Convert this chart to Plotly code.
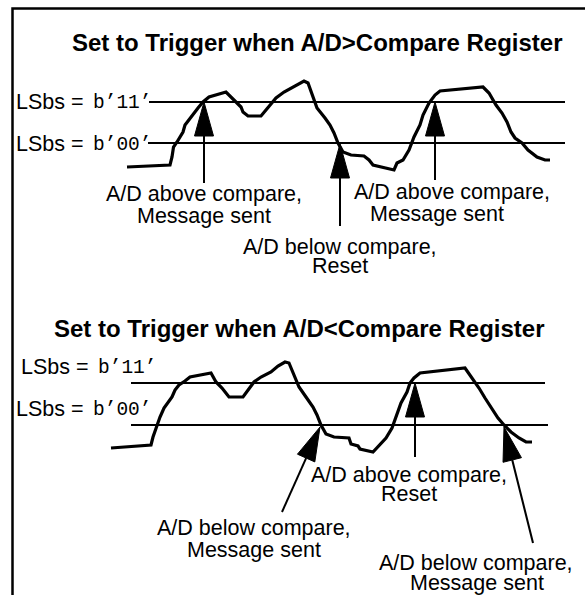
import numpy as np
import plotly.graph_objects as go

# ---------------- data ----------------
# Panel 1: "A/D > Compare" waveform (time position, A/D level in screen units)
wave1_t = [127, 170, 172, 173.5, 177, 183, 185, 190, 198, 203, 209, 226, 229, 235,
           241, 243, 248, 261, 269, 276, 284, 291, 299, 304, 308, 312, 317, 325,
           330, 334, 338, 343, 351, 364, 369, 373, 394, 397, 403, 409, 414, 420,
           423, 429, 435, 440, 483, 489, 496, 502, 507, 511, 515, 522, 528, 537,
           545, 550]
wave1_v = [167, 165, 157, 147, 142, 132, 125, 118, 108, 102, 97, 92, 95, 102,
           107, 112, 116, 116, 107, 98, 92, 88, 83, 81, 83, 95, 108, 118,
           125, 133, 143, 152, 155, 156, 160, 165, 170, 163, 160, 150, 137, 125,
           115, 103, 95, 91, 87, 93, 105, 113, 122, 132, 138, 143, 150, 157,
           160, 160]

# Panel 2: "A/D < Compare" waveform
wave2_t = [111, 151, 153, 157, 160, 164, 168, 172, 175, 179, 185, 190, 211, 213,
           216, 222, 226, 229, 243, 248, 254, 261, 271, 278, 285, 289, 293, 299,
           306, 313, 317, 321, 326, 334, 349, 351, 358, 360, 373, 381, 386, 392,
           396, 401, 407, 410, 414, 420, 465, 472, 479, 485, 493, 498, 504, 511,
           519, 526, 532]
wave2_v = [448, 445, 437, 425, 417, 408, 403, 397, 390, 385, 381, 377, 373, 377,
           382, 388, 393, 397, 397, 390, 382, 377, 372, 366, 362, 363, 373, 387,
           397, 407, 415, 425, 434, 437, 438, 444, 446, 449, 452, 443, 438, 428,
           417, 403, 392, 383, 378, 373, 368, 378, 388, 398, 410, 418, 425, 432,
           438, 442, 442]

# Compare-register thresholds (LSbs = b'11', b'00')
thr_labels = ["b\u201911\u2019", "b\u201900\u2019"]
thr1_levels = [102, 143]
thr2_levels = [383, 425]
thr1_span = [[149, 565], [148, 565]]
thr2_span = [[131, 545], [131, 548]]

titles = ["Set to Trigger when A/D>Compare Register",
          "Set to Trigger when A/D<Compare Register"]

# Arrows: (tail, tip)
arrows1 = [((204, 183), (204, 102)), ((340, 226), (340, 144)), ((435, 180), (435, 102))]
arrows2 = [((282, 512), (320, 427)), ((415, 457), (415, 383)), ((533, 543), (504, 427))]

# Callout text lines
callouts = [
    ("A/D above compare,", 204, 194), ("Message sent", 204, 216),
    ("A/D below compare,", 340, 247), ("Reset", 340, 266),
    ("A/D above compare,", 452, 192), ("Message sent", 437, 214),
    ("A/D above compare,", 409, 475), ("Reset", 409, 494),
    ("A/D below compare,", 254, 528), ("Message sent", 254, 550),
    ("A/D below compare,", 476, 563), ("Message sent", 477, 583),
]

# ---------------- figure ----------------
SANS = "Liberation Sans, Arial, Helvetica, sans-serif"
MONO = "Liberation Mono, Courier New, monospace"
HEAD_L, HEAD_W = 34, 19

fig = go.Figure()

# frame (top and left rule)
fig.add_trace(go.Scatter(x=[585, 12.5, 12.5], y=[8.5, 8.5, 595], mode="lines",
                         line=dict(color="black", width=2.5), hoverinfo="skip"))

# threshold lines
for levels, spans in ((thr1_levels, thr1_span), (thr2_levels, thr2_span)):
    for lvl, sp in zip(levels, spans):
        fig.add_trace(go.Scatter(x=sp, y=[lvl, lvl], mode="lines",
                                 line=dict(color="black", width=1.8), hoverinfo="skip"))

# waveforms
for t, v in ((wave1_t, wave1_v), (wave2_t, wave2_v)):
    fig.add_trace(go.Scatter(x=t, y=v, mode="lines",
                             line=dict(color="black", width=3.2, shape="linear"),
                             hoverinfo="skip"))

# arrows
for tail, tip in arrows1 + arrows2:
    p0 = np.array(tail, float)
    p1 = np.array(tip, float)
    u = (p1 - p0) / np.linalg.norm(p1 - p0)
    n = np.array([-u[1], u[0]])
    base = p1 - HEAD_L * u
    a = base + n * HEAD_W / 2
    b = base - n * HEAD_W / 2
    fig.add_trace(go.Scatter(x=[p0[0], base[0]], y=[p0[1], base[1]], mode="lines",
                             line=dict(color="black", width=2), hoverinfo="skip"))
    fig.add_trace(go.Scatter(x=[p1[0], a[0], b[0], p1[0]], y=[p1[1], a[1], b[1], p1[1]],
                             mode="lines", fill="toself", fillcolor="black",
                             line=dict(color="black", width=1), hoverinfo="skip"))

ann = []
# titles
for txt, (x, y) in zip(titles, [(317.5, 42), (299, 328)]):
    ann.append(dict(text="<b>" + txt + "</b>", x=x, y=y, xref="x", yref="y",
                    showarrow=False, xanchor="center", yanchor="middle",
                    font=dict(family=SANS, size=24, color="black")))

# threshold labels
label_pos = [[(86, 102), (86, 144)], [(91, 367), (86, 409)]]
for panel in range(2):
    for i, lab in enumerate(thr_labels):
        x, y = label_pos[panel][i]
        ann.append(dict(text="LSbs =", x=x, y=y, xref="x", yref="y", showarrow=False,
                        xanchor="right", yanchor="middle",
                        font=dict(family=SANS, size=21.5, color="black")))
        ann.append(dict(text=lab, x=x + 5, y=y + 1, xref="x", yref="y", showarrow=False,
                        xanchor="left", yanchor="middle",
                        font=dict(family=MONO, size=19.5, color="black")))

for txt, x, y in callouts:
    ann.append(dict(text=txt, x=x, y=y, xref="x", yref="y", showarrow=False,
                    xanchor="center", yanchor="middle",
                    font=dict(family=SANS, size=21.5, color="black")))

fig.update_layout(
    width=585, height=595,
    margin=dict(l=0, r=0, t=0, b=0),
    paper_bgcolor="white", plot_bgcolor="white",
    showlegend=False,
    xaxis=dict(range=[0, 585], visible=False, fixedrange=True),
    yaxis=dict(range=[595, 0], visible=False, fixedrange=True),
    annotations=ann,
)

fig.write_html(
    "out.html",
    config={"displayModeBar": False},
    post_script="document.body.style.margin='0';document.body.style.overflow='hidden';",
)
